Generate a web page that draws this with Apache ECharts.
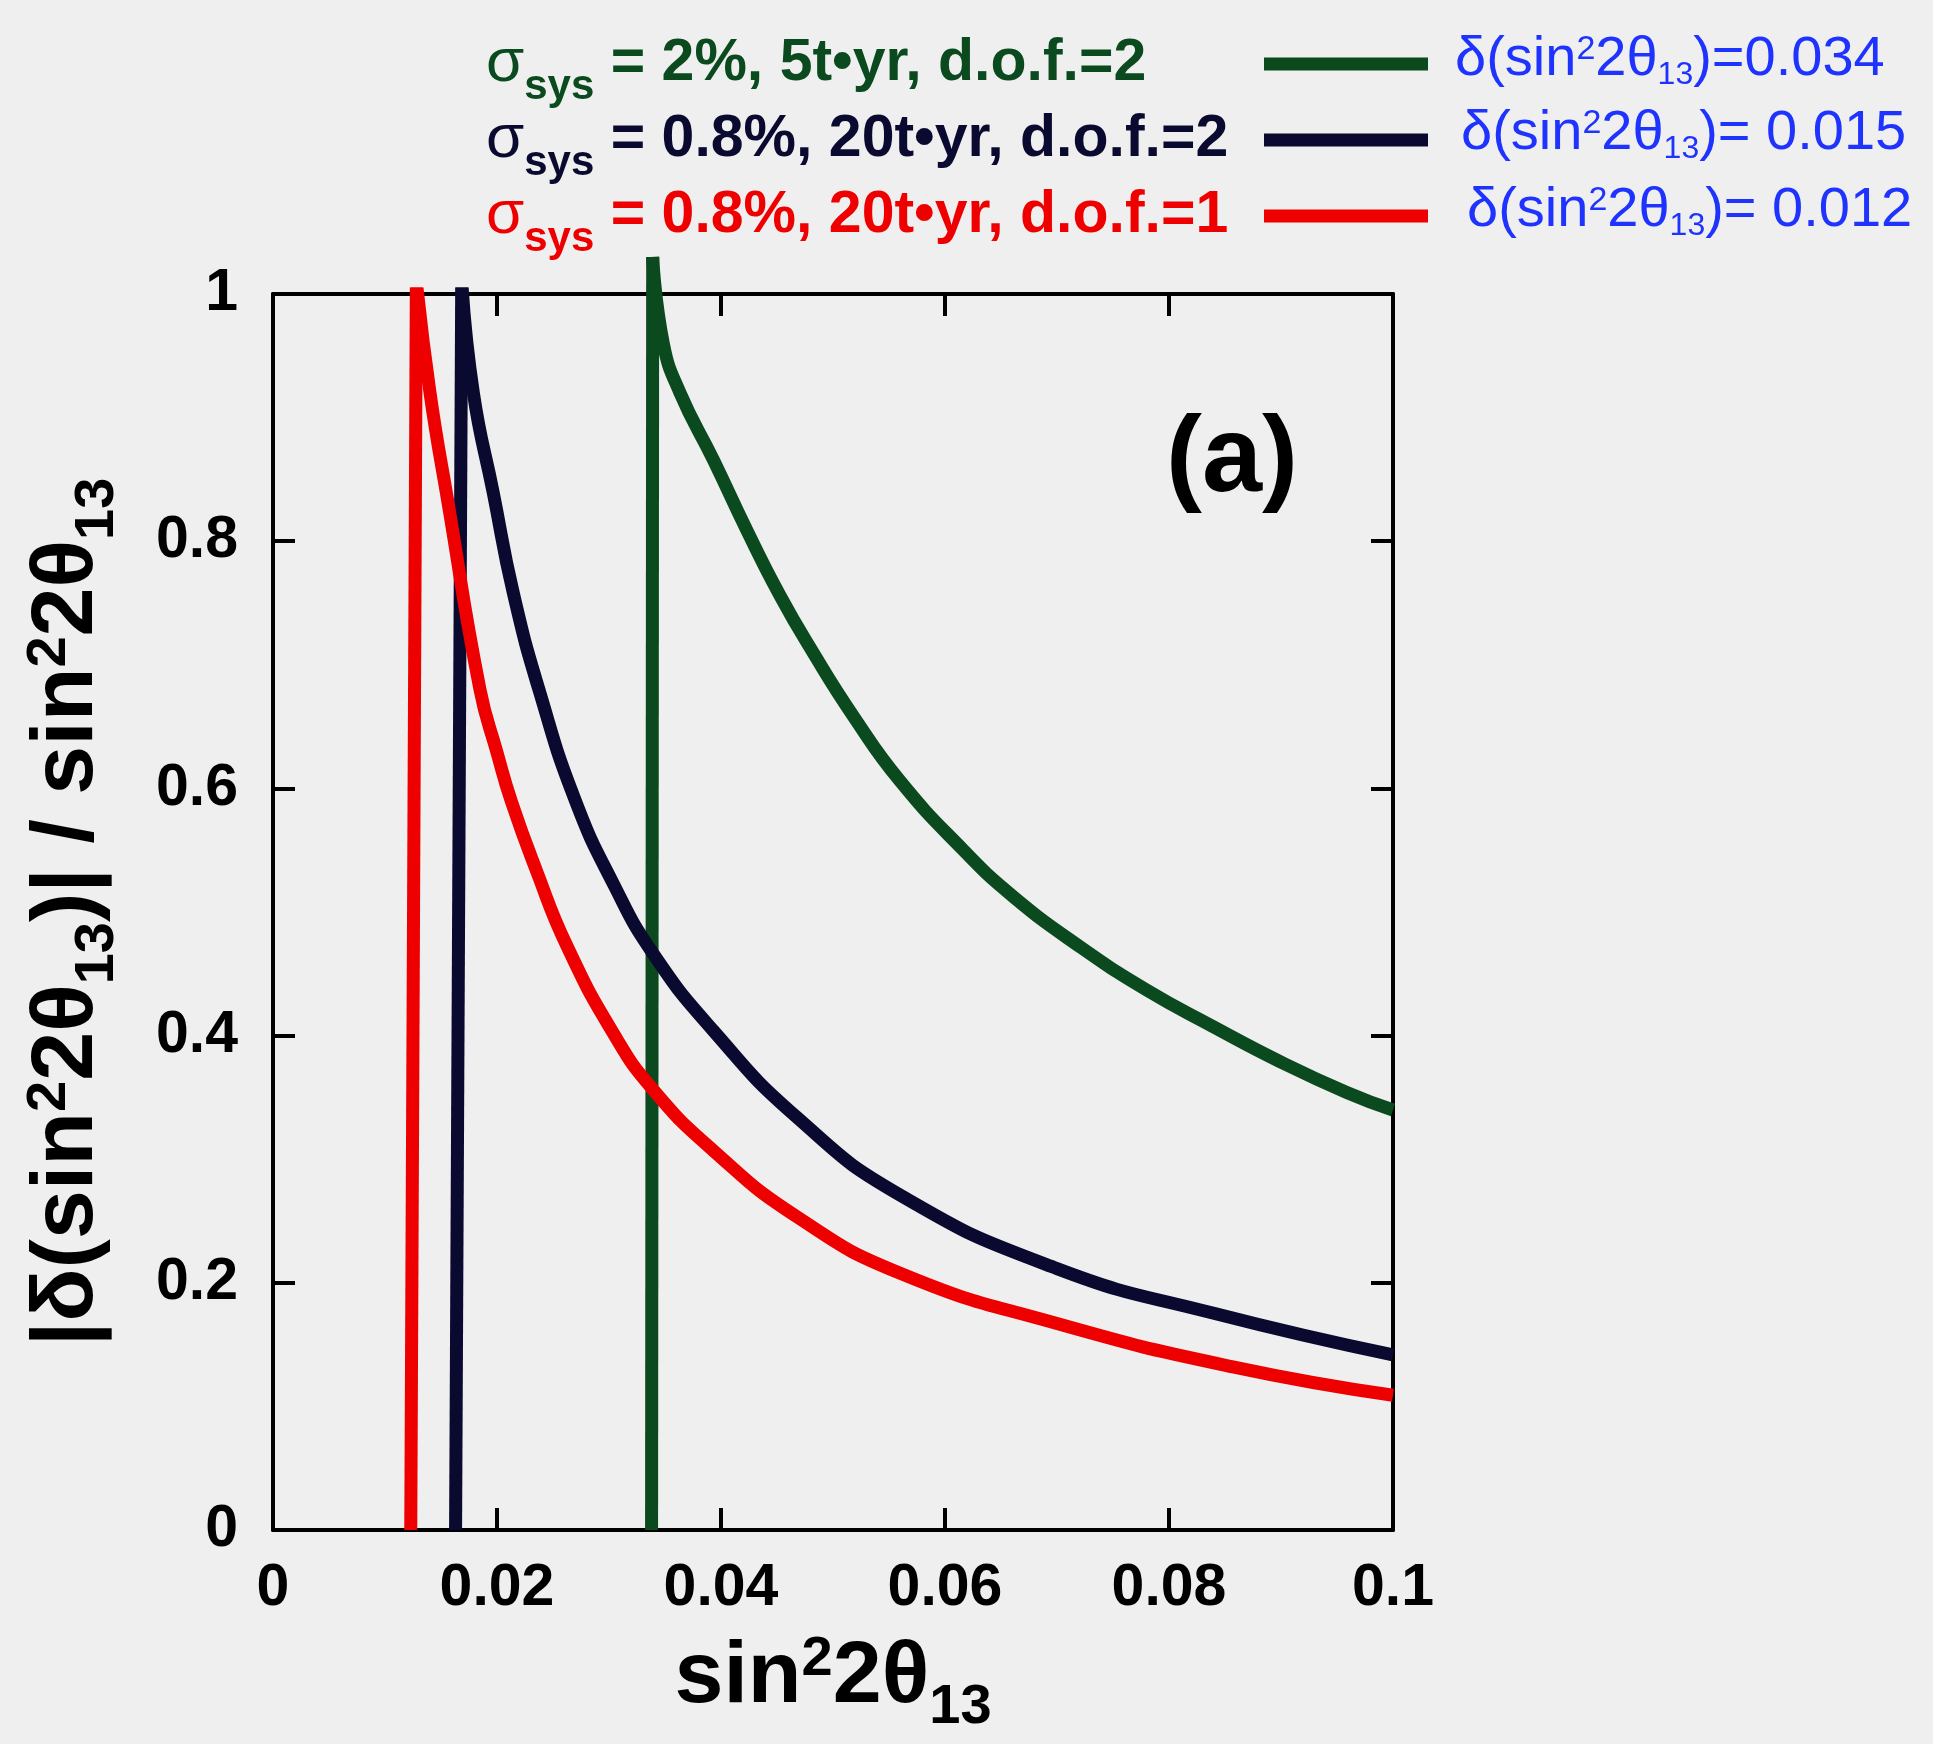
<!DOCTYPE html>
<html>

<head>
    <meta charset="utf-8">
    <script src="https://cdn.jsdelivr.net/npm/echarts@6/dist/echarts.min.js"></script>
    <style>
        html, body { margin: 0; padding: 0; background: #efefef; }
        #main { width: 1933px; height: 1744px; }
    </style>
</head>

<body>
    <div id="main"></div>
</body>
<script>
    var FONT = '"Liberation Sans", Arial, sans-serif';

    // tick labels
    var xTicks = ['0', '0.02', '0.04', '0.06', '0.08', '0.1'];
    var yTicks = ['0', '0.2', '0.4', '0.6', '0.8', '1'];

    // legend rows (top to bottom)
    var seriesNames = ['s2_5t_dof2', 's08_20t_dof2', 's08_20t_dof1'];
    var legendRest = [' = 2%, 5t\u2022yr, d.o.f.=2', ' = 0.8%, 20t\u2022yr, d.o.f.=2', ' = 0.8%, 20t\u2022yr, d.o.f.=1'];
    var deltaNotes = ['=0.034', '= 0.015', '= 0.012'];
    var colors = ['#0b4a1f', '#0a0a30', '#ee0000'];

    // sigma_sys = 2%, 5 t.yr, dof 2 : steep rise, then fall-off
    var greenRiseX = [0.0338, 0.0339];
    var greenRiseY = [0, 1.03];
    var greenX = [0.0339, 0.03485, 0.03634, 0.03931, 0.0423, 0.04527, 0.04824, 0.05181, 0.05598, 0.06163, 0.0661, 0.07205, 0.078, 0.08396, 0.08991, 0.09587, 0.1];
    var greenY = [1.03, 0.960, 0.920, 0.866, 0.809, 0.756, 0.7096, 0.6585, 0.606, 0.5502, 0.5124, 0.4719, 0.4369, 0.4072, 0.379, 0.354, 0.3398];

    // sigma_sys = 0.8%, 20 t.yr, dof 2
    var navyRiseX = [0.0163, 0.01685];
    var navyRiseY = [0, 1.01];
    var navyX = [0.01685, 0.01789, 0.01967, 0.02146, 0.02384, 0.0270, 0.03038, 0.03396, 0.03931, 0.04676, 0.0560, 0.0700, 0.0840, 0.1];
    var navyY = [1.01, 0.920, 0.839, 0.758, 0.677, 0.590, 0.523, 0.466, 0.404, 0.334, 0.271, 0.2115, 0.1753, 0.1416];

    // sigma_sys = 0.8%, 20 t.yr, dof 1
    var redRiseX = [0.0123, 0.0128];
    var redRiseY = [0, 1.01];
    var redX = [0.0128, 0.01402, 0.01565, 0.01848, 0.0200, 0.0213, 0.02354, 0.02622, 0.03038, 0.03396, 0.03931, 0.04676, 0.0560, 0.0700, 0.0857, 0.1];
    var redY = [1.01, 0.920, 0.830, 0.680, 0.629, 0.589, 0.533, 0.473, 0.402, 0.356, 0.307, 0.2535, 0.2077, 0.167, 0.132, 0.1090];

    function pairs(xs, ys) {
        return xs.map(function (x, i) { return [x, ys[i]]; });
    }

    var keys = ['g', 'k', 'r'];
    var legendRich = {};
    keys.forEach(function (k, i) {
        legendRich[k + 's'] = { fontSize: 62, fontFamily: FONT, fontWeight: 'normal', color: colors[i], lineHeight: 64, align: 'left' };
        legendRich[k + 'b'] = { fontSize: 42, fontFamily: FONT, fontWeight: 'bold', color: colors[i], lineHeight: 64, height: 18, verticalAlign: 'bottom', align: 'left' };
        legendRich[k + 't'] = { fontSize: 59, fontFamily: FONT, fontWeight: 'bold', color: colors[i], lineHeight: 64, align: 'left' };
    });

    var titleRich = {
        m: { fontSize: 88, fontFamily: FONT, fontWeight: 'bold', color: '#000', lineHeight: 110 },
        p: { fontSize: 56, fontFamily: FONT, fontWeight: 'bold', color: '#000', lineHeight: 110, height: 74, verticalAlign: 'top' },
        b: { fontSize: 56, fontFamily: FONT, fontWeight: 'bold', color: '#000', lineHeight: 110, height: 50, verticalAlign: 'bottom' }
    };

    var noteRich = {
        m: { fontSize: 56, fontFamily: FONT, fill: '#1f33ff', lineHeight: 64 },
        p: { fontSize: 34, fontFamily: FONT, fill: '#1f33ff', lineHeight: 64, height: 44, verticalAlign: 'top' },
        b: { fontSize: 32, fontFamily: FONT, fill: '#1f33ff', lineHeight: 64, height: 34, verticalAlign: 'bottom' }
    };

    var noteX = [1455, 1461, 1467];
    var noteY = [60, 134, 211];

    var axisLine = { onZero: false, lineStyle: { color: '#000', width: 4 } };
    var axisTick = { inside: true, length: 22, lineStyle: { color: '#000', width: 4 } };
    var tickFont = { fontSize: 59, fontWeight: 'bold', fontFamily: FONT, color: '#000' };

    function curve(i, xs, ys, smooth, clip) {
        return {
            name: seriesNames[i], type: 'line', data: pairs(xs, ys),
            color: colors[i], symbol: 'none', clip: clip, smooth: smooth,
            lineStyle: { color: colors[i], width: 13 }
        };
    }

    var myChart = echarts.init(document.getElementById('main'));
    myChart.setOption({
        backgroundColor: '#efefef',
        animation: false,
        grid: { left: 273, right: 540, top: 294, bottom: 214 },
        legend: {
            data: seriesNames,
            orient: 'vertical',
            left: 486,
            top: 33,
            padding: 0,
            itemGap: 1,
            align: 'right',
            icon: 'rect',
            itemWidth: 164,
            itemHeight: 13,
            selectedMode: false,
            textStyle: { width: 773, rich: legendRich },
            formatter: function (name) {
                var i = seriesNames.indexOf(name);
                var k = keys[i];
                return '{' + k + 's|\u03c3}{' + k + 'b|sys}{' + k + 't|' + legendRest[i] + '}';
            }
        },
        xAxis: [{
            type: 'value', min: 0, max: 0.1, interval: 0.02, position: 'bottom',
            axisLine: axisLine, axisTick: axisTick, splitLine: { show: false },
            axisLabel: Object.assign({ margin: 29, formatter: function (v, i) { return xTicks[i]; } }, tickFont),
            name: '{m|sin}{p|2}{m|2\u03b8}{b|13}',
            nameLocation: 'middle', nameGap: 85,
            nameTextStyle: { rich: titleRich }
        }, {
            type: 'value', min: 0, max: 0.1, interval: 0.02, position: 'top',
            axisLine: axisLine, axisTick: axisTick, splitLine: { show: false },
            axisLabel: { show: false }
        }],
        yAxis: [{
            type: 'value', min: 0, max: 1, interval: 0.2, position: 'left',
            axisLine: axisLine, axisTick: axisTick, splitLine: { show: false },
            axisLabel: Object.assign({ margin: 35, formatter: function (v, i) { return yTicks[i]; } }, tickFont),
            name: '{m||\u03b4(sin}{p|2}{m|2\u03b8}{b|13}{m|)| / sin}{p|2}{m|2\u03b8}{b|13}',
            nameLocation: 'middle', nameGap: 150,
            nameTextStyle: { rich: titleRich }
        }, {
            type: 'value', min: 0, max: 1, interval: 0.2, position: 'right',
            axisLine: axisLine, axisTick: axisTick, splitLine: { show: false },
            axisLabel: { show: false }
        }],
        series: [
            curve(0, greenRiseX, greenRiseY, false, false),
            curve(0, greenX, greenY, 0.5, false),
            curve(1, navyRiseX, navyRiseY, false, true),
            curve(1, navyX, navyY, 0.5, true),
            curve(2, redRiseX, redRiseY, false, true),
            curve(2, redX, redY, 0.5, true)
        ],
        graphic: [{
            type: 'text', x: 1232, y: 461, z: 10,
            style: { text: '(a)', font: 'bold 108px ' + FONT, fill: '#000', align: 'center', verticalAlign: 'middle' }
        }].concat(deltaNotes.map(function (note, i) {
            return {
                type: 'text', x: noteX[i], y: noteY[i], z: 10,
                style: {
                    text: '{m|\u03b4(sin}{p|2}{m|2\u03b8}{b|13}{m|)' + note + '}',
                    rich: noteRich, fill: '#1f33ff', align: 'left', verticalAlign: 'middle'
                }
            };
        }))
    });
</script>

</html>
